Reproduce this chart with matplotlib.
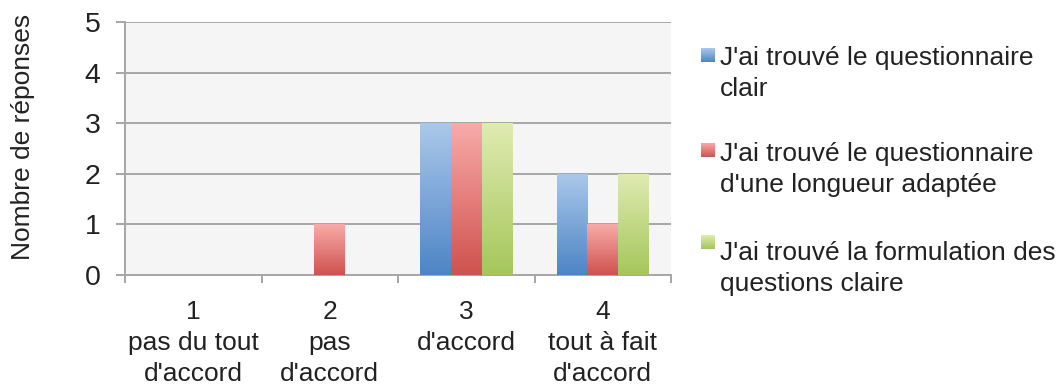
import matplotlib
matplotlib.use("Agg")
import matplotlib.pyplot as plt
import numpy as np
from matplotlib.colors import LinearSegmentedColormap
from matplotlib.ticker import FixedLocator

# ---- data ----
categories = ["1\npas du tout\nd'accord", "2\npas\nd'accord", "3\nd'accord", "4\ntout à fait\nd'accord"]
series_names = ["J'ai trouvé le questionnaire\nclair",
                "J'ai trouvé le questionnaire\nd'une longueur adaptée",
                "J'ai trouvé la formulation des\nquestions claire"]
clair = [0, 0, 3, 2]
longueur = [0, 1, 3, 1]
formulation = [0, 0, 3, 2]
y_ticks = [0, 1, 2, 3, 4, 5]
y_label = "Nombre de réponses"

series_values = [clair, longueur, formulation]
grad_colors = [("#abc8ea", "#4d85c5"), ("#f8aba9", "#cf524e"), ("#e0ebb1", "#a5c65b")]

plt.rcParams['font.family'] = ['Liberation Sans', 'DejaVu Sans']
TXT = "#222222"
FS = 19

W, H = 1063, 385
fig = plt.figure(figsize=(W / 100, H / 100), dpi=100)
def fx(px): return px / W
def fy(py): return 1 - py / H

left, right, top, bottom = 125, 671, 22, 275
ax = fig.add_axes([fx(left), fy(bottom), fx(right) - fx(left), fy(top) - fy(bottom)])
ax.set_facecolor("#f5f5f5")

x = np.arange(len(categories))
bw = 0.225
grad = np.linspace(0, 1, 256).reshape(-1, 1)
for i, (vals, (ctop, cbot)) in enumerate(zip(series_values, grad_colors)):
    cmap = LinearSegmentedColormap.from_list(f"g{i}", [ctop, cbot])
    bars = ax.bar(x + (i - 1) * bw, vals, width=bw, color=cbot, zorder=3, linewidth=0)
    for rect, v in zip(bars, vals):
        if v <= 0:
            continue
        x0 = rect.get_x()
        im = ax.imshow(grad, extent=[x0, x0 + rect.get_width(), 0, v], aspect='auto',
                       cmap=cmap, zorder=4, interpolation='bilinear', origin='upper')
        im.set_clip_path(rect)

ax.set_xlim(-0.5, len(categories) - 0.5)
ax.set_ylim(0, 5)
ax.set_yticks(y_ticks)
ax.set_yticklabels([str(t) for t in y_ticks], fontsize=20.5, color=TXT)
ax.yaxis.grid(True, color="#a6a6a6", linewidth=1.4, zorder=1)
ax.set_axisbelow(True)

ax.xaxis.set_major_locator(FixedLocator(np.arange(-0.5, len(categories), 1.0)))
ax.xaxis.set_major_formatter(plt.NullFormatter())
ax.xaxis.set_minor_locator(FixedLocator(x))
ax.set_xticklabels(categories, minor=True, fontsize=FS, color=TXT, linespacing=1.37)
ax.tick_params(axis='x', which='major', length=6, width=1.4, color="#a6a6a6", direction='out')
ax.tick_params(axis='x', which='minor', length=0, pad=18)
ax.tick_params(axis='y', length=6.5, width=1.4, color="#a6a6a6", direction='out', pad=11)

for s in ['top', 'right']:
    ax.spines[s].set_visible(False)
for s in ['left', 'bottom']:
    ax.spines[s].set_color("#a6a6a6")
    ax.spines[s].set_linewidth(1.4)

fig.text(fx(23), fy(137), y_label, rotation=90, ha='center', va='center', fontsize=FS, color=TXT)

# legend (manual, first-line aligned markers)
text_tops = [46, 142, 241]
marker_tops = [48, 143, 235]
for i, (name, (ctop, cbot)) in enumerate(zip(series_names, grad_colors)):
    cmap = LinearSegmentedColormap.from_list(f"l{i}", [ctop, cbot])
    max_ = fig.add_axes([fx(701), fy(marker_tops[i] + 14), fx(14), 14 / H])
    max_.imshow(grad, aspect='auto', cmap=cmap, interpolation='bilinear')
    max_.set_axis_off()
    fig.text(fx(720), fy(text_tops[i]), name, ha='left', va='top', fontsize=FS,
             color=TXT, linespacing=1.37)

fig.savefig("out.png", dpi=100)
